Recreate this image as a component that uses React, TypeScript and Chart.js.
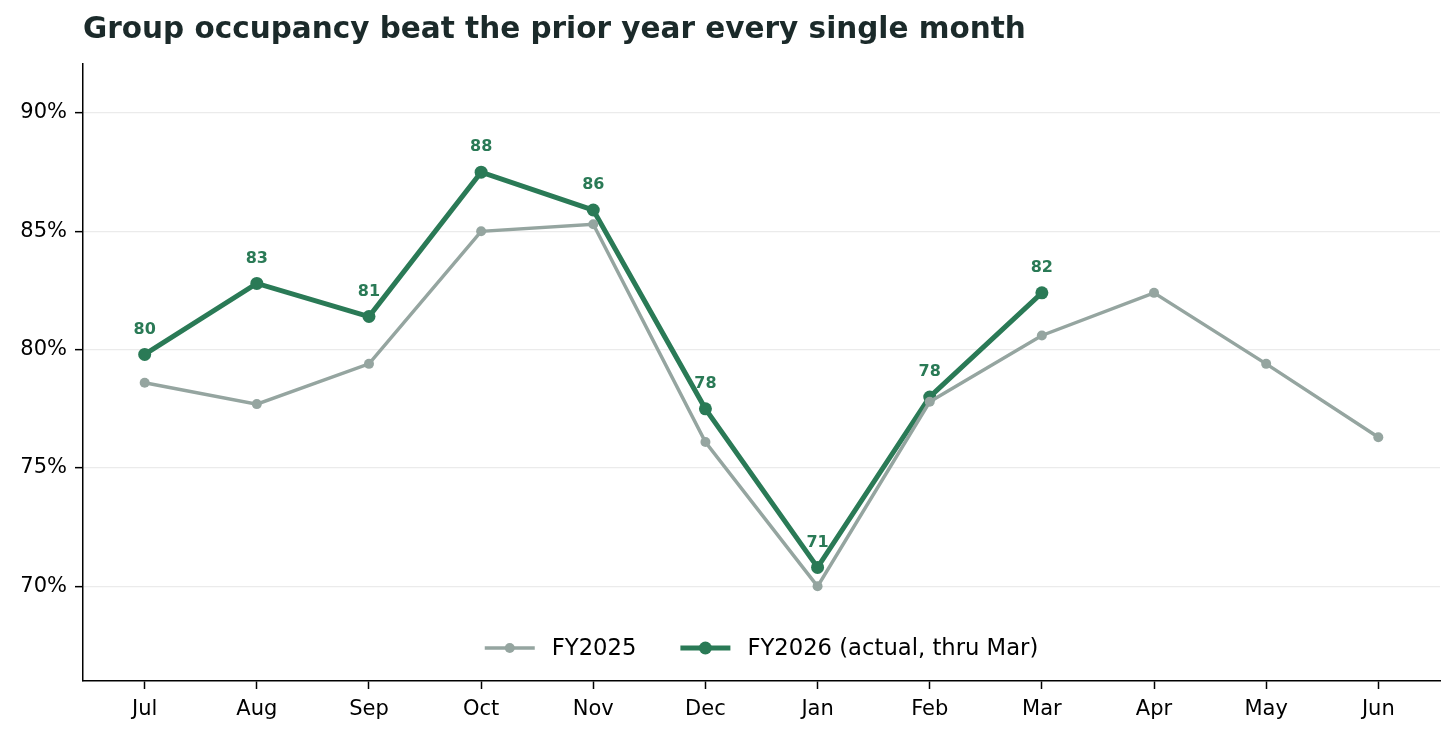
import React, { useEffect, useRef } from "react";
import { Chart, registerables } from "chart.js";

Chart.register(...registerables);

const MONTHS = ["Jul", "Aug", "Sep", "Oct", "Nov", "Dec", "Jan", "Feb", "Mar", "Apr", "May", "Jun"];
const FY2025 = [78.6, 77.7, 79.4, 85.0, 85.3, 76.1, 70.0, 77.8, 80.6, 82.4, 79.4, 76.3];
const FY2026 = [79.8, 82.8, 81.4, 87.5, 85.9, 77.5, 70.8, 78.0, 82.4];
const Y_TICKS = [70, 75, 80, 85, 90];
const SERIES_NAMES = ["FY2025", "FY2026 (actual, thru Mar)"];
const TITLE = "Group occupancy beat the prior year every single month";

const GREEN = "#2a7a56";
const GRAY = "#95a5a0";
const FONT = "'DejaVu Sans', sans-serif";

export default function App() {
  const ref = useRef<HTMLCanvasElement | null>(null);

  useEffect(() => {
    document.body.style.margin = "0";
    const canvas = ref.current;
    if (!canvas) return;

    const titlePlugin = {
      id: "customTitle",
      afterDraw(chart: any) {
        const ctx = chart.ctx;
        ctx.save();
        ctx.font = `bold 29.5px ${FONT}`;
        ctx.fillStyle = "#1b2a2a";
        ctx.textAlign = "left";
        ctx.textBaseline = "alphabetic";
        ctx.fillText(TITLE, chart.chartArea.left, 38);
        ctx.restore();
      },
    };

    const labelPlugin = {
      id: "pointLabels",
      afterDatasetsDraw(chart: any) {
        const ctx = chart.ctx;
        const meta = chart.getDatasetMeta(1);
        ctx.save();
        ctx.font = `bold 16px ${FONT}`;
        ctx.fillStyle = GREEN;
        ctx.textAlign = "center";
        ctx.textBaseline = "middle";
        meta.data.forEach((pt: any, i: number) => {
          ctx.fillText(String(Math.round(FY2026[i])), pt.x, pt.y - 25);
        });
        ctx.restore();
      },
    };

    const legendPlugin = {
      id: "customLegend",
      afterDraw(chart: any) {
        const ctx = chart.ctx;
        const area = chart.chartArea;
        ctx.save();
        ctx.font = `22.7px ${FONT}`;
        const lineLen = 50;
        const gapText = 17;
        const gapItem = 44;
        const items = [
          { label: SERIES_NAMES[0], color: GRAY, lw: 3.5, r: 5 },
          { label: SERIES_NAMES[1], color: GREEN, lw: 5, r: 6.5 },
        ];
        const widths = items.map((it) => ctx.measureText(it.label).width);
        const total = items.reduce((s, it, i) => s + lineLen + gapText + widths[i], 0) + gapItem;
        let x = (area.left + area.right) / 2 - total / 2;
        const y = 648;
        items.forEach((it, i) => {
          ctx.strokeStyle = it.color;
          ctx.lineWidth = it.lw;
          ctx.beginPath();
          ctx.moveTo(x, y);
          ctx.lineTo(x + lineLen, y);
          ctx.stroke();
          ctx.fillStyle = it.color;
          ctx.beginPath();
          ctx.arc(x + lineLen / 2, y, it.r, 0, Math.PI * 2);
          ctx.fill();
          ctx.fillStyle = "#000";
          ctx.textAlign = "left";
          ctx.textBaseline = "middle";
          ctx.fillText(it.label, x + lineLen + gapText, y + 1);
          x += lineLen + gapText + widths[i] + gapItem;
        });
        ctx.restore();
      },
    };

    const chart = new Chart(canvas, {
      type: "line",
      data: {
        datasets: [
          {
            label: SERIES_NAMES[0],
            data: FY2025.map((v, i) => ({ x: i, y: v })),
            borderColor: GRAY,
            backgroundColor: GRAY,
            borderWidth: 3.5,
            pointRadius: 5,
            pointBorderWidth: 0,
            pointBackgroundColor: GRAY,
            tension: 0,
          },
          {
            label: SERIES_NAMES[1],
            data: FY2026.map((v, i) => ({ x: i, y: v })),
            borderColor: GREEN,
            backgroundColor: GREEN,
            borderWidth: 5,
            pointRadius: 6.5,
            pointBorderWidth: 0,
            pointBackgroundColor: GREEN,
            tension: 0,
          },
        ],
      },
      options: {
        responsive: false,
        animation: false,
        devicePixelRatio: 1,
        layout: { padding: { top: 64, right: 16, left: 0, bottom: 0 } },
        plugins: {
          legend: { display: false },
          title: { display: false },
          tooltip: { enabled: false },
        },
        scales: {
          x: {
            type: "linear",
            min: -0.55,
            max: 11.55,
            afterBuildTicks: (scale: any) => {
              scale.ticks = MONTHS.map((_, i) => ({ value: i }));
            },
            afterFit: (scale: any) => {
              scale.height = 55;
            },
            ticks: {
              autoSkip: false,
              maxRotation: 0,
              padding: 8,
              color: "#000",
              font: { family: FONT, size: 21 },
              callback: (v: any) => MONTHS[Math.round(Number(v))] ?? "",
            },
            grid: {
              drawOnChartArea: false,
              drawTicks: true,
              tickLength: 8,
              tickColor: "#000",
              tickWidth: 1.5,
            },
            border: { display: true, color: "#000", width: 1.5 },
          },
          y: {
            type: "linear",
            min: 66,
            max: 92.07,
            afterBuildTicks: (scale: any) => {
              scale.ticks = Y_TICKS.map((v) => ({ value: v }));
            },
            afterFit: (scale: any) => {
              scale.width = 83;
            },
            ticks: {
              padding: 8,
              color: "#000",
              font: { family: FONT, size: 21 },
              callback: (v: any) => `${v}%`,
            },
            grid: {
              color: "#ebebeb",
              lineWidth: 1.3,
              drawTicks: true,
              tickLength: 8,
              tickColor: "#000",
              tickWidth: 1.5,
            },
            border: { display: true, color: "#000", width: 1.5 },
          },
        },
      },
      plugins: [titlePlugin, labelPlugin, legendPlugin],
    });

    return () => chart.destroy();
  }, []);

  return (
    <div style={{ width: 1456, height: 736, background: "#fff" }}>
      <canvas ref={ref} width={1456} height={736} style={{ display: "block", width: 1456, height: 736 }} />
    </div>
  );
}
